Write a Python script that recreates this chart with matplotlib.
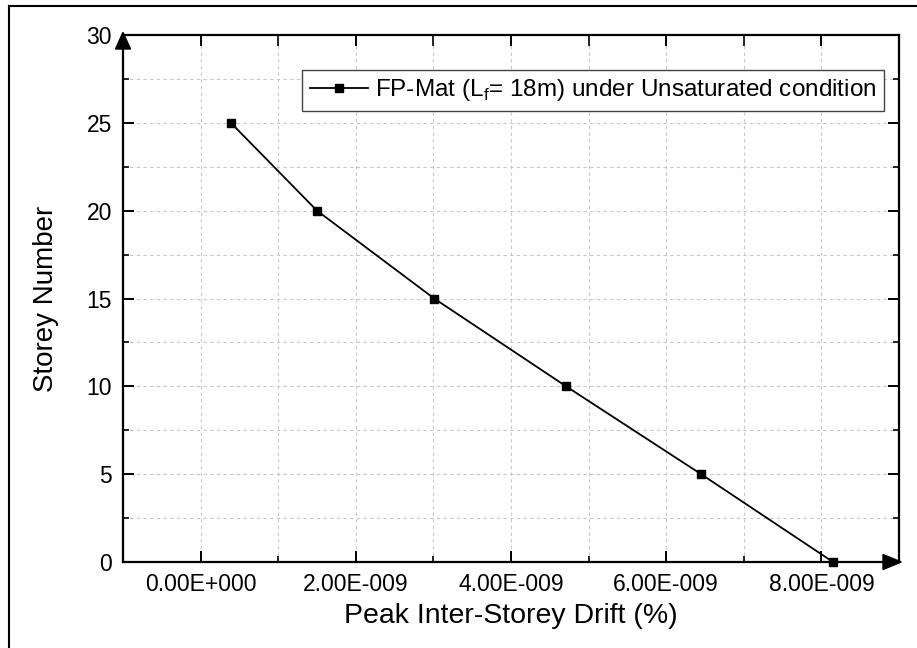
import matplotlib
matplotlib.use("Agg")
import matplotlib.pyplot as plt
from matplotlib.patches import Polygon
from matplotlib.lines import Line2D
from matplotlib.ticker import MultipleLocator

plt.rcParams['font.family'] = ['Liberation Sans', 'DejaVu Sans']

# ---- data ----
storey = [0, 5, 10, 15, 20, 25]
drift = [8.15e-9, 6.45e-9, 4.71e-9, 3.01e-9, 1.50e-9, 0.39e-9]
series_label = r"FP-Mat (L$_\mathregular{f}$= 18m) under Unsaturated condition"
x_ticks = [0, 2e-9, 4e-9, 6e-9, 8e-9]
x_tick_labels = ["0.00E+000", "2.00E-009", "4.00E-009", "6.00E-009", "8.00E-009"]
y_ticks = [0, 5, 10, 15, 20, 25, 30]
x_label = "Peak Inter-Storey Drift (%)"
y_label = "Storey Number"

W, H = 917, 648
fig = plt.figure(figsize=(W / 100, H / 100), dpi=100)
L, R, T, B = 123, 899, 35, 562
ax = fig.add_axes([L / W, 1 - B / H, (R - L) / W, (B - T) / H])

ax.plot(drift, storey, color='black', lw=1.3, marker='s', ms=5.5,
        label=series_label, zorder=5, clip_on=False)

ax.set_xlim(-1e-9, 9e-9)
ax.set_ylim(0, 30)
ax.set_xticks(x_ticks)
ax.set_xticklabels(x_tick_labels)
ax.set_yticks(y_ticks)
ax.xaxis.set_minor_locator(MultipleLocator(1e-9))
ax.yaxis.set_minor_locator(MultipleLocator(2.5))

ax.grid(True, which='both', color='#c8c8c8', linestyle=(0, (3, 3)), lw=0.8)
ax.set_axisbelow(True)

for s in ax.spines.values():
    s.set_linewidth(1.6)
    s.set_color('black')

ax.tick_params(which='major', direction='in', length=8, width=1.4,
               labelsize=16.5, top=True, right=True, pad=8)
ax.tick_params(which='minor', direction='in', length=4, width=1.2,
               top=True, right=True)
for t in ax.xaxis.get_minor_ticks():
    t.tick2line.set_markersize(8)
ax.tick_params(axis='x', pad=8)

ax.set_xlabel(x_label, fontsize=20.5, labelpad=5)
ax.set_ylabel(y_label, fontsize=20, labelpad=20)

# axis arrows
aw = 7.5 / (R - L)
ah = 14 / (B - T)
ax.add_patch(Polygon([(-aw, 1 - ah), (aw, 1 - ah), (0, 1.005)], closed=True,
                     transform=ax.transAxes, color='black', clip_on=False, zorder=10))
bw = 16 / (R - L)
bh = 7.5 / (B - T)
ax.add_patch(Polygon([(1 - bw, -bh), (1 - bw, bh), (1.003, 0)], closed=True,
                     transform=ax.transAxes, color='black', clip_on=False, zorder=10))

leg = ax.legend(loc='upper right', bbox_to_anchor=((884 - L) / (R - L), (B - 70) / (B - T)),
                fontsize=17.5, frameon=True, fancybox=False, framealpha=1,
                edgecolor='#444444', handlelength=2.4, handletextpad=0.3,
                borderpad=0.3, borderaxespad=0)
leg.get_frame().set_linewidth(1.0)

# outer border
fig.add_artist(Line2D([9 / W, 9 / W], [0, 1 - 6 / H], color='black', lw=1.5))
fig.add_artist(Line2D([9 / W, 1], [1 - 6 / H, 1 - 6 / H], color='black', lw=1.5))

fig.savefig("out.png", dpi=100)
